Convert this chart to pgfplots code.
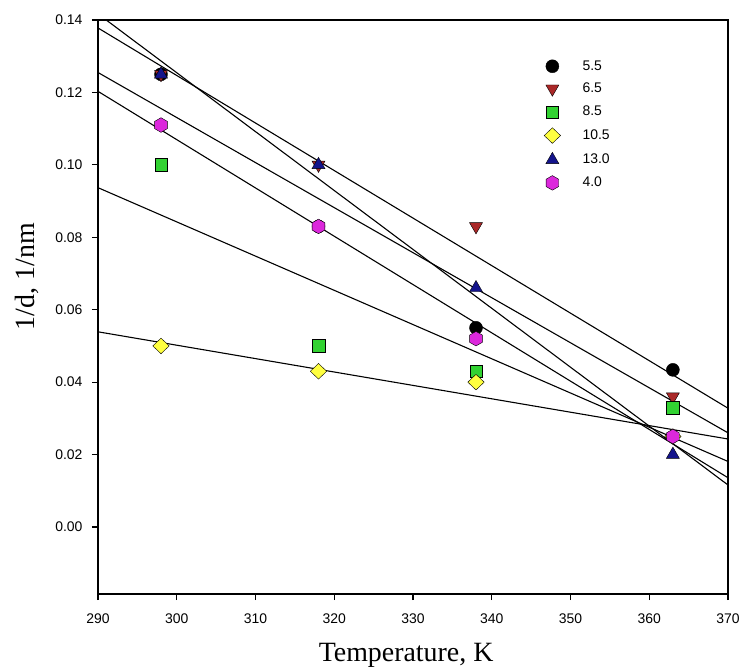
\documentclass[border=0pt]{standalone}
\usepackage{pgfplots}
\pgfplotsset{compat=1.18}
\usepackage{fontspec}
\setmainfont{Liberation Serif}
\newfontfamily\tickfont{Liberation Sans}
\definecolor{cRed}{RGB}{170,40,40}
\definecolor{cGreen}{RGB}{50,210,50}
\definecolor{cYellow}{RGB}{255,255,64}
\definecolor{cNavy}{RGB}{20,20,140}
\definecolor{cMag}{RGB}{220,40,220}
\pgfdeclareplotmark{hexagon*}{%
  \pgfpathmoveto{\pgfqpointpolar{90}{\pgfplotmarksize}}%
  \pgfpathlineto{\pgfqpointpolar{150}{\pgfplotmarksize}}%
  \pgfpathlineto{\pgfqpointpolar{210}{\pgfplotmarksize}}%
  \pgfpathlineto{\pgfqpointpolar{270}{\pgfplotmarksize}}%
  \pgfpathlineto{\pgfqpointpolar{330}{\pgfplotmarksize}}%
  \pgfpathlineto{\pgfqpointpolar{30}{\pgfplotmarksize}}%
  \pgfpathclose\pgfusepathqfillstroke}
\begin{document}
\begin{tikzpicture}
\begin{axis}[
  width=630bp, height=574bp, scale only axis,
  xmin=290, xmax=370, ymin=-0.0185, ymax=0.14,
  xtick={290,300,...,370},
  ytick={0,0.02,0.04,0.06,0.08,0.10,0.12,0.14},
  yticklabel style={/pgf/number format/fixed, /pgf/number format/fixed zerofill, /pgf/number format/precision=2, xshift=-6bp},
  xticklabel style={yshift=-10bp},
  /pgf/number format/assume math mode=true,
  scaled y ticks=false,
  tick label style={font=\tickfont\fontsize{14}{16}\selectfont},
  tick align=outside, xtick pos=bottom, ytick pos=left,
  major tick length=6bp,
  axis line style={line width=1.4bp},
  every tick/.style={line width=1.2bp, black},
  xlabel={Temperature, K},
  ylabel={1/d, 1/nm},
  label style={font=\fontsize{28}{32}\selectfont},
  xlabel style={at={(axis description cs:0.489,0)}, anchor=center, yshift=-61bp},
  ylabel style={at={(axis description cs:0,0.553)}, anchor=center, yshift=71bp},
  legend style={draw=none, fill=none, at={(axis description cs:0.70,0.935)}, anchor=north west,
    font=\tickfont\fontsize{14}{16}\selectfont, row sep=9bp,
    nodes={inner ysep=0bp, text height=10.5bp, text depth=3bp}},
  legend cell align=left,
  legend image code/.code={\draw[#1] plot coordinates {(10bp,0bp)}; \path (0bp,0bp) (38bp,0bp);},
  every axis plot/.append style={mark options={draw=black, line width=0.6bp}},
]
% regression lines
\addplot[black, line width=1.1bp, forget plot] coordinates {(290,0.1417) (370,0.0116)};
\addplot[black, line width=1.1bp, forget plot] coordinates {(290,0.1378) (370,0.0328)};
\addplot[black, line width=1.1bp, forget plot] coordinates {(290,0.1255) (370,0.0260)};
\addplot[black, line width=1.1bp, forget plot] coordinates {(290,0.1203) (370,0.0136)};
\addplot[black, line width=1.1bp, forget plot] coordinates {(290,0.0937) (370,0.0181)};
\addplot[black, line width=1.1bp, forget plot] coordinates {(290,0.0539) (370,0.0243)};
% data
\addplot[only marks, mark=*, mark size=6.5bp, mark options={fill=black}]
  coordinates {(298,0.125) (318,0.083) (338,0.055) (363,0.0434)};
\addlegendentry{5.5}
\addplot[only marks, mark=triangle*, mark size=7.5bp, mark options={fill=cRed, rotate=180}]
  coordinates {(298,0.125) (318,0.100) (338,0.083) (363,0.036)};
\addlegendentry{6.5}
\addplot[only marks, mark=square*, mark size=6.3bp, mark options={fill=cGreen}]
  coordinates {(298,0.100) (318,0.050) (338,0.043) (363,0.033)};
\addlegendentry{8.5}
\addplot[only marks, mark=diamond*, mark size=7.8bp, mark options={fill=cYellow, xscale=1.4}]
  coordinates {(298,0.050) (318,0.043) (338,0.040) (363,0.025)};
\addlegendentry{10.5}
\addplot[only marks, mark=triangle*, mark size=7.5bp, mark options={fill=cNavy}]
  coordinates {(298,0.125) (318,0.100) (338,0.066) (363,0.020)};
\addlegendentry{13.0}
\addplot[only marks, mark=hexagon*, mark size=7.3bp, mark options={fill=cMag}]
  coordinates {(298,0.111) (318,0.083) (338,0.052) (363,0.025)};
\addlegendentry{4.0}
\coordinate (sw) at (rel axis cs:0,0);
\coordinate (ne) at (rel axis cs:1,1);
\end{axis}
\pgfresetboundingbox
\path (sw) +(-98bp,-75bp) (ne) +(14bp,20bp);
\end{tikzpicture}
\end{document}
